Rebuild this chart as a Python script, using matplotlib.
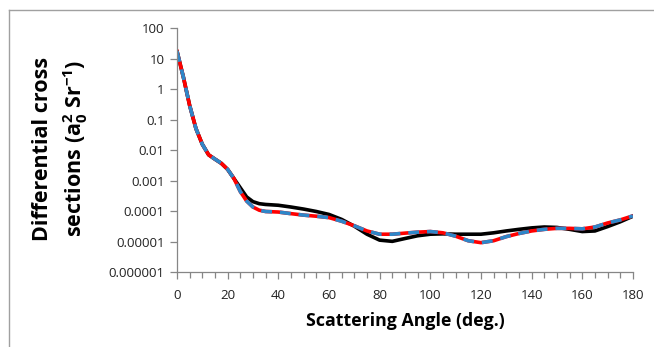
import numpy as np
import matplotlib.pyplot as plt
from matplotlib.lines import Line2D
from matplotlib.ticker import FixedLocator, MultipleLocator, NullLocator

angle = [0, 2.5, 5, 7.5, 10, 12.5, 15, 17.5, 20, 22.5, 25, 27.5, 30, 32.5, 35, 40,
         45, 50, 55, 60, 65, 70, 75, 80, 85, 90, 95, 100, 105, 110, 115, 120, 125,
         130, 135, 140, 145, 150, 155, 160, 165, 170, 175, 180]

# black curve
dcs_black = [18, 2.6, 0.30, 0.052, 0.016, 0.0072, 0.0052, 0.0038, 0.0024, 0.0012,
             6e-4, 3e-4, 2.1e-4, 1.8e-4, 1.7e-4, 1.6e-4, 1.4e-4, 1.2e-4, 1.0e-4,
             8e-5, 5.5e-5, 3.3e-5, 1.8e-5, 1.15e-5, 1.05e-5, 1.3e-5, 1.6e-5, 1.8e-5,
             1.85e-5, 1.8e-5, 1.8e-5, 1.8e-5, 2.0e-5, 2.3e-5, 2.6e-5, 2.9e-5, 3.1e-5,
             3.0e-5, 2.6e-5, 2.2e-5, 2.3e-5, 3.2e-5, 4.6e-5, 7.0e-5]

# red (solid) and blue (dashed) curves coincide
dcs_red = [18, 2.6, 0.30, 0.052, 0.016, 0.0072, 0.0052, 0.0038, 0.0024, 0.0012,
           4.5e-4, 2.2e-4, 1.4e-4, 1.1e-4, 1.0e-4, 9.6e-5, 8.5e-5, 7.6e-5, 7e-5,
           6.3e-5, 4.8e-5, 3.4e-5, 2.3e-5, 1.8e-5, 1.8e-5, 1.95e-5, 2.1e-5, 2.2e-5,
           2.0e-5, 1.55e-5, 1.1e-5, 9.5e-6, 1.1e-5, 1.5e-5, 1.9e-5, 2.3e-5, 2.6e-5,
           2.8e-5, 2.8e-5, 2.7e-5, 3.1e-5, 4.2e-5, 5.3e-5, 7.2e-5]
dcs_blue = list(dcs_red)

yticks = [1e-6, 1e-5, 1e-4, 1e-3, 1e-2, 0.1, 1, 10, 100]
ytick_labels = ['0.000001', '0.00001', '0.0001', '0.001', '0.01', '0.1', '1', '10', '100']

plt.rcParams['font.family'] = ['Open Sans', 'DejaVu Sans']

fig = plt.figure(figsize=(6.54, 3.47), dpi=100)
ax = fig.add_axes([0.2706, 0.2147, 0.6972, 0.7033])

ax.plot(angle, dcs_black, color='black', lw=2.6, solid_joinstyle='round',
        solid_capstyle='round')
ax.plot(angle, dcs_red, color='#ff0000', lw=2.6, solid_joinstyle='round')
ax.plot(angle, dcs_blue, color='#2e86c8', lw=2.6, dashes=(3.0, 2.2),
        dash_joinstyle='round')

ax.set_yscale('log')
ax.set_xlim(0, 180)
ax.set_ylim(1e-6, 100)
ax.yaxis.set_major_locator(FixedLocator(yticks))
ax.yaxis.set_minor_locator(NullLocator())
ax.set_yticklabels(ytick_labels)
ax.xaxis.set_major_locator(MultipleLocator(20))
ax.xaxis.set_minor_locator(MultipleLocator(5))

for s in ['top', 'right']:
    ax.spines[s].set_visible(False)
for s in ['left', 'bottom']:
    ax.spines[s].set_color('#868686')
    ax.spines[s].set_linewidth(0.9)
ax.tick_params(which='major', length=5, width=0.9, color='#868686', labelsize=9.5,
               labelcolor='#222222')
ax.tick_params(axis='x', pad=7)
ax.tick_params(axis='y', pad=4)
ax.tick_params(which='minor', length=4, width=0.9, color='#868686')

ax.set_xlabel('Scattering Angle (deg.)', fontsize=12.8, fontweight='bold', labelpad=7)
fig.text(0.0935, 0.572,
         'Differential cross\nsections (a$\\mathregular{_0^2}$ Sr$\\mathregular{^{-1}}$)',
         rotation=90, ha='center', va='center', fontsize=15.5, fontweight='bold',
         linespacing=1.4)

# outer frame (left and top edges visible)
fig.add_artist(Line2D([9 / 654, 9 / 654], [0, 1 - 10 / 347], color='#a0a0a0', lw=1.0))
fig.add_artist(Line2D([9 / 654, 1], [1 - 10 / 347, 1 - 10 / 347], color='#a0a0a0', lw=1.0))

fig.savefig('out.png', dpi=100)
